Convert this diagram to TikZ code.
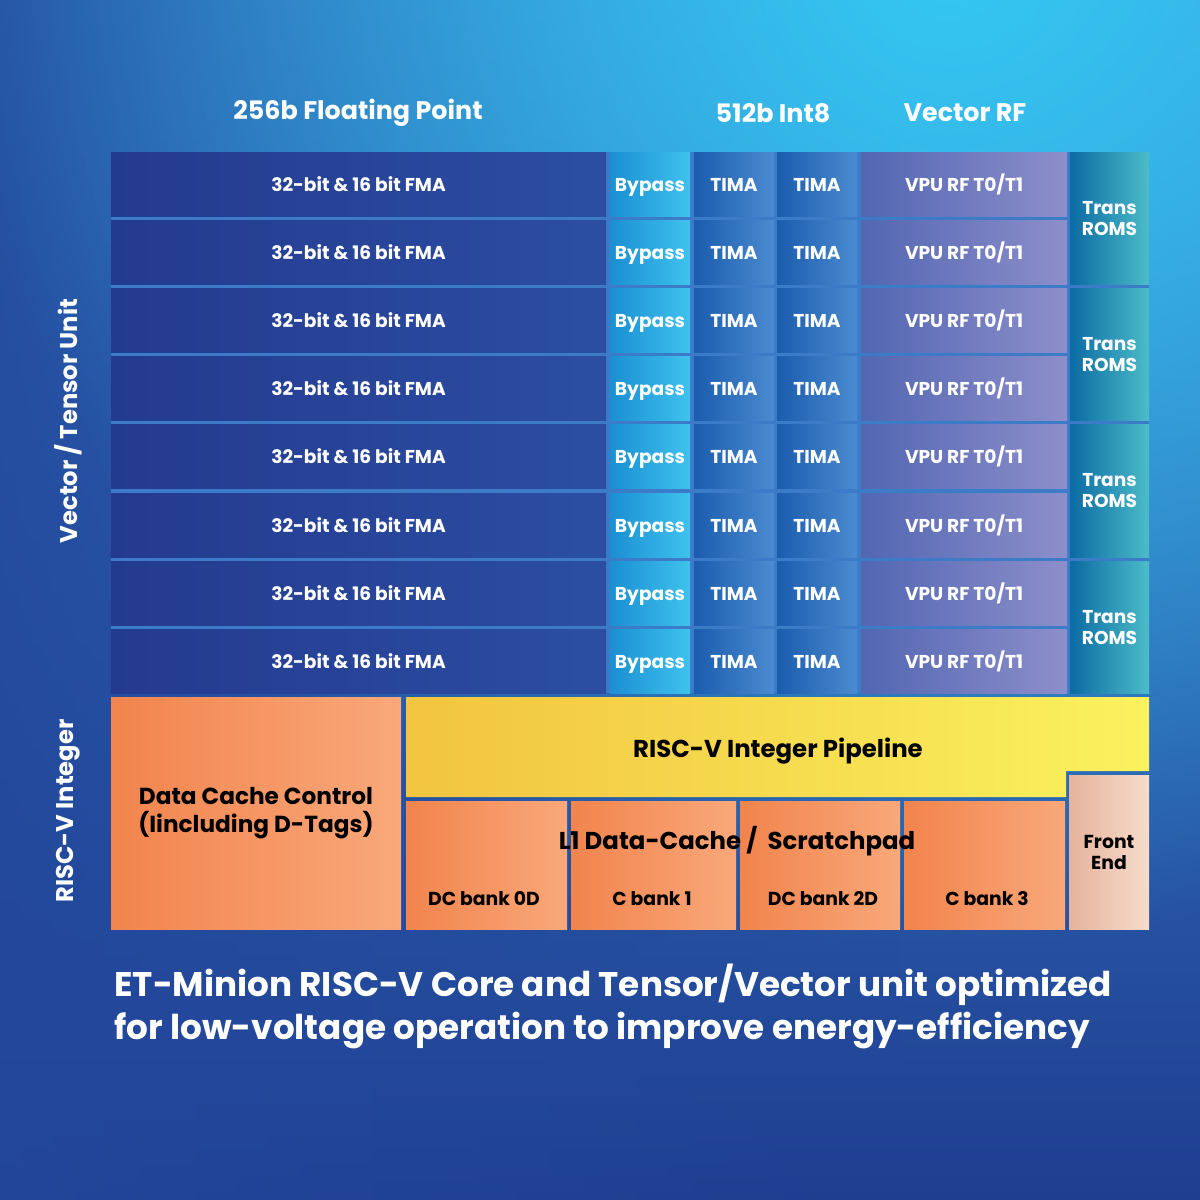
\documentclass[tikz,border=0pt]{standalone}
\usepackage{fontspec}
\setmainfont{Poppins}
\usetikzlibrary{fadings}
\definecolor{bgtop}{HTML}{3D8FD6}
\definecolor{bgmid}{HTML}{2356AA}
\definecolor{bgbot}{HTML}{1F3E90}
\definecolor{bgdark}{HTML}{23479B}
\definecolor{glowc}{HTML}{34C8F2}
\definecolor{gapc}{HTML}{3B7BC8}
\definecolor{fmaL}{HTML}{243A8E}
\definecolor{fmaR}{HTML}{2B4EA3}
\definecolor{bypL}{HTML}{1A8FD2}
\definecolor{bypR}{HTML}{3FC2EE}
\definecolor{timL}{HTML}{1B5CAE}
\definecolor{timR}{HTML}{4B8BD0}
\definecolor{vpuL}{HTML}{5266B2}
\definecolor{vpuR}{HTML}{8D8FCA}
\definecolor{trL}{HTML}{0B6BA3}
\definecolor{trR}{HTML}{4CBCC9}
\definecolor{dcL}{HTML}{F2844D}
\definecolor{dcR}{HTML}{F9A87A}
\definecolor{yelL}{HTML}{F2C440}
\definecolor{yelR}{HTML}{FAF25E}
\definecolor{feL}{HTML}{E6B39C}
\definecolor{feR}{HTML}{F6DCCB}
\tikzfading[name=glowfade, inner color=transparent!0, outer color=transparent!100]
\newcommand\cellfont{\fontsize{9.3}{10.5}\selectfont\bfseries}
\newcommand\headfont{\fontsize{12.7}{14}\selectfont\bfseries}
\newcommand\sidefont{\fontsize{12.1}{14}\selectfont\bfseries}
\newcommand\blackfont{\fontsize{12.2}{14}\selectfont\bfseries}
\newcommand\dccfont{\fontsize{11.6}{14}\selectfont\bfseries}
\newcommand\bankfont{\fontsize{9.4}{10.5}\selectfont\bfseries}
\newcommand\capfont{\fontsize{17.1}{21.5}\selectfont\bfseries}
\newcommand\blk[7]{\node[#6, minimum width={((#4)-(#2))*0.5pt}, minimum height={((#5)-(#3))*0.5pt}] (#1) at ({((#2)+(#4))/2},{((#3)+(#5))/2}) {#7};}
\begin{document}
\begin{tikzpicture}[x=0.5pt,y=-0.5pt,
  cellbox/.style={inner sep=0pt, outer sep=0pt, text=white, font=\cellfont, align=center},
  onel/.style={text height=0.7em, text depth=0em},
  fmabox/.style={cellbox, onel, left color=fmaL, right color=fmaR},
  bypbox/.style={cellbox, onel, left color=bypL, right color=bypR},
  timbox/.style={cellbox, onel, left color=timL, right color=timR},
  vpubox/.style={cellbox, onel, left color=vpuL, right color=vpuR},
  trbox/.style={cellbox, left color=trL, right color=trR},
  orbox/.style={inner sep=0pt, outer sep=0pt, text=black, left color=dcL, right color=dcR, align=center},
  febox/.style={inner sep=0pt, outer sep=0pt, text=black, left color=feL, right color=feR, font=\bankfont, align=center},
  head/.style={text=white, font=\headfont, inner sep=0pt},
  side/.style={text=white, font=\sidefont, inner sep=0pt, rotate=90},
  blk/.style={text=black, font=\blackfont, inner sep=0pt, align=center},
  banklbl/.style={text=black, font=\bankfont, inner sep=0pt}
]
\useasboundingbox (0,0) rectangle (1200,1200);
% background
\shade[top color=bgtop, middle color=bgmid, bottom color=bgbot] (0,0) rectangle (1200,1200);
\fill[bgdark, path fading=east, opacity=0.85] (0,0) rectangle (900,1200);
\begin{scope}
\clip (0,0) rectangle (1200,1200);
\fill[glowc, path fading=glowfade] (-50,-1050) rectangle (1950,950);
\end{scope}
% headers
\node[head] (h1) at (358,113) {256b Floating Point};
\node[head] (h2) at (773,113) {512b Int8};
\node[head] (h3) at (965,113) {Vector RF};
% side labels
\node[side] (s1) at (68,421) {Vector / Tensor Unit};
\node[side] (s2) at (68,811) {RISC-V Integer};
% grid panel
\fill[gapc] (111,152) rectangle (1149,693);
\foreach \i in {1,...,8}{
  \pgfmathsetmacro\rt{152+(\i-1)*68.2}
  \blk{fma\i}{111}{\rt}{606}{\rt+64}{fmabox}{32-bit \& 16 bit FMA}
  \blk{byp\i}{610}{\rt}{690}{\rt+64}{bypbox}{Bypass}
  \blk{tima\i}{694}{\rt}{774}{\rt+64}{timbox}{TIMA}
  \blk{timb\i}{777}{\rt}{857}{\rt+64}{timbox}{TIMA}
  \blk{vpu\i}{861}{\rt}{1067}{\rt+64}{vpubox}{VPU RF T0/T1}
}
\foreach \j in {1,...,4}{
  \pgfmathsetmacro\rt{152+(2*\j-2)*68.2}
  \blk{tr\j}{1070}{\rt}{1149}{\rt+132.2}{trbox}{Trans\\ROMS}
}
% lower section
\blk{dcc}{111}{697}{401}{929}{orbox, font=\dccfont}{Data Cache Control\\(Iincluding D-Tags)}
\shade[left color=yelL, right color=yelR] (406,697) -- (1149,697) -- (1149,771) -- (1066,771) -- (1066,797) -- (406,797) -- cycle;
\node[blk] (pipe) at (778,751) {RISC-V Integer Pipeline};
\blk{fe}{1069}{775}{1149}{929}{febox}{Front\\End}
\blk{b0}{406}{801}{567}{929}{orbox}{}
\blk{b1}{571}{801}{736}{929}{orbox}{}
\blk{b2}{740}{801}{900}{929}{orbox}{}
\blk{b3}{904}{801}{1065}{929}{orbox}{}
\node[banklbl] (l0) at (484,899) {DC bank 0D};
\node[banklbl] (l1) at (652,899) {C bank 1};
\node[banklbl] (l2) at (823,899) {DC bank 2D};
\node[banklbl] (l3) at (987,899) {C bank 3};
\node[blk] (l1c) at (737,841) {L1 Data-Cache /\ \ Scratchpad};
% caption
\node[text=white, font=\capfont, align=left, anchor=west, inner sep=0pt] (cap) at (114,1006) {ET-Minion RISC-V Core and Tensor/Vector unit optimized\\for low-voltage operation to improve energy-efficiency};
\end{tikzpicture}
\end{document}
